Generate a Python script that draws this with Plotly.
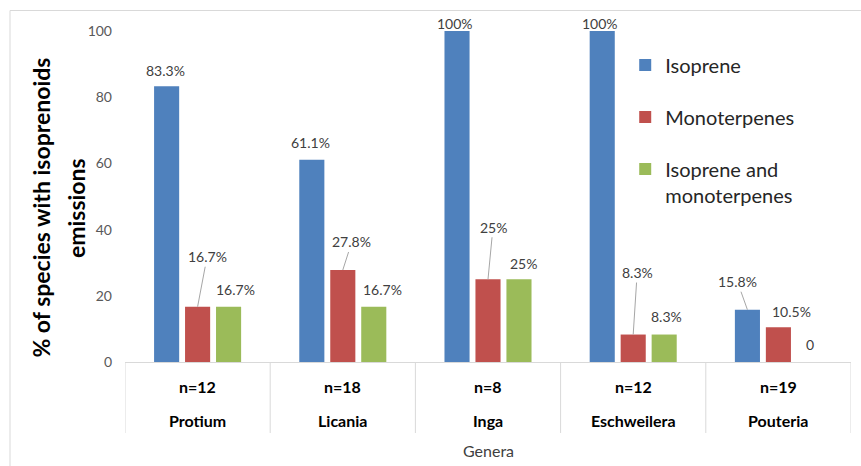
import plotly.graph_objects as go

# Data
genera = ["Protium", "Licania", "Inga", "Eschweilera", "Pouteria"]
sample_sizes = ["n=12", "n=18", "n=8", "n=12", "n=19"]
isoprene = [83.3, 61.1, 100, 100, 15.8]
monoterpenes = [16.7, 27.8, 25, 8.3, 10.5]
isoprene_and_mono = [16.7, 16.7, 25, 8.3, 0]
y_ticks = [0, 20, 40, 60, 80, 100]

series = [
    ("Isoprene", isoprene, "#4F81BD"),
    ("Monoterpenes", monoterpenes, "#C0504D"),
    ("Isoprene and<br>monoterpenes", isoprene_and_mono, "#9BBB59"),
]

# Label placement (pixel offsets from bar top, leader line flag), per series
label_offsets = [
    [(-1, -16, False), (-1, -17, False), (-2, -8, False), (-2, -8, False), (-10, -28, True)],
    [(9.5, -50, True), (9, -28, True), (5, -52, True), (4, -62, True), (13, -15.5, False)],
    [(6.5, -17, False), (9, -17, False), (5, -16, False), (2, -18, False), (1, -18, False)],
]

BARGAP = 0.36
BARGROUPGAP = 0.19
FONT = "Lato"
GRID = "#d9d9d9"

fig = go.Figure()
for k, (name, vals, color) in enumerate(series):
    fig.add_trace(go.Bar(
        x=genera, y=vals, name=name, legendgroup=name,
        marker=dict(color=color, line=dict(width=0)),
    ))

annotations = []
slot = (1 - BARGAP) / len(series)
for k, (name, vals, color) in enumerate(series):
    for i, v in enumerate(vals):
        dx, dy, leader = label_offsets[k][i]
        txt = "0" if v == 0 else f"{v:g}%"
        annotations.append(dict(
            x=i + (k - 1) * slot, y=v, xref="x", yref="y",
            text=txt, showarrow=True, arrowhead=0, arrowwidth=1,
            arrowcolor="#a6a6a6" if leader else "rgba(0,0,0,0)",
            ax=dx, ay=dy, standoff=0,
            font=dict(family=FONT, size=14, color="#404040"),
        ))

# Category labels below the axis
for i, (g, n) in enumerate(zip(genera, sample_sizes)):
    annotations.append(dict(x=i, y=-0.0755, xref="x", yref="paper", text=f"<b>{n}</b>",
                            xanchor="center", yanchor="middle", showarrow=False,
                            font=dict(family=FONT, size=16, color="#000000")))
    annotations.append(dict(x=i, y=-0.178, xref="x", yref="paper", text=f"<b>{g}</b>",
                            xanchor="center", yanchor="middle", showarrow=False,
                            font=dict(family=FONT, size=16, color="#000000")))

annotations.append(dict(x=0.5, y=-0.266, xref="paper", yref="paper", text="Genera",
                        xanchor="center", yanchor="middle", showarrow=False,
                        font=dict(family=FONT, size=16, color="#404040")))

# Y axis title in two lines
annotations.append(dict(x=-0.115, y=0.465, xref="paper", yref="paper", textangle=-90,
                        xanchor="center", yanchor="middle",
                        text="<b>% of species with isoprenoids</b>", showarrow=False,
                        font=dict(family=FONT, size=23, color="#000000")))
annotations.append(dict(x=-0.0675, y=0.465, xref="paper", yref="paper", textangle=-90,
                        xanchor="center", yanchor="middle",
                        text="<b>emissions</b>", showarrow=False,
                        font=dict(family=FONT, size=23, color="#000000")))

shapes = []
# Category divider lines
for j in range(len(genera) + 1):
    shapes.append(dict(type="line", xref="x", yref="paper", x0=j - 0.5, x1=j - 0.5,
                       y0=0, y1=-0.2145, line=dict(color=GRID, width=1)))
# Outer frame
shapes.append(dict(type="rect", xref="paper", yref="paper", x0=-0.1584, x1=1.2,
                   y0=-0.5, y1=1.0619, line=dict(color=GRID, width=1), layer="below"))

fig.update_layout(
    width=861, height=466,
    margin=dict(l=125, r=10, t=31, b=104),
    paper_bgcolor="white", plot_bgcolor="white",
    barmode="group", bargap=BARGAP, bargroupgap=BARGROUPGAP,
    font=dict(family=FONT, color="#404040"),
    showlegend=True,
    legend=dict(
        x=0.689, y=0.956, xanchor="left", yanchor="top",
        traceorder="grouped", tracegroupgap=23, valign="top",
        font=dict(family=FONT, size=20, color="#262626"),
        bgcolor="rgba(0,0,0,0)",
    ),
    xaxis=dict(
        type="category", range=[-0.5, len(genera) - 0.5],
        showticklabels=False, ticks="", showgrid=False,
        showline=True, linecolor=GRID, linewidth=1, zeroline=False,
    ),
    yaxis=dict(
        range=[0, 100], tickvals=y_ticks, showgrid=False, zeroline=False,
        showline=False, ticks="", ticklabelstandoff=12,
        tickfont=dict(family=FONT, size=14, color="#595959"),
    ),
    annotations=annotations,
    shapes=shapes,
)

fig.write_html("out.html")
